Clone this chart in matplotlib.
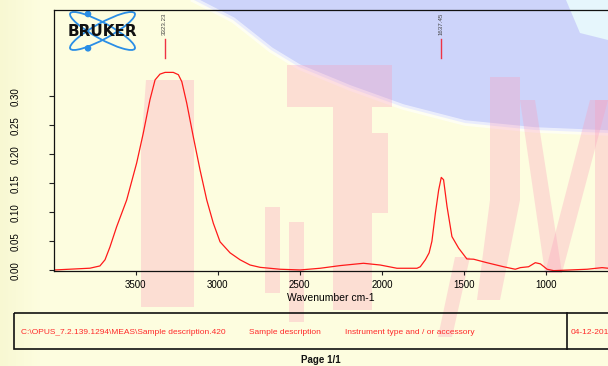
import numpy as np
import matplotlib.pyplot as plt
from matplotlib.colors import LinearSegmentedColormap
from matplotlib.patches import Ellipse, Circle, Polygon, Rectangle

# spectrum (wavenumber cm-1, absorbance)
wavenumber = [3992, 3779, 3718, 3687, 3657, 3616, 3555, 3494, 3454, 3413,
              3382, 3352, 3321, 3271, 3240, 3219, 3189, 3149, 3108, 3067,
              3027, 2986, 2925, 2864, 2803, 2742, 2620, 2498, 2376, 2254,
              2112, 2010, 1908, 1786, 1766, 1735, 1712, 1695, 1674, 1654,
              1638, 1624, 1603, 1573, 1532, 1482, 1441, 1360, 1258, 1187,
              1156, 1106, 1065, 1034, 993, 953, 851, 749, 658, 620]
absorbance = [0.0005, 0.0035, 0.0074, 0.018, 0.040, 0.075, 0.121, 0.185, 0.236, 0.294,
              0.328, 0.338, 0.341, 0.341, 0.337, 0.325, 0.288, 0.230, 0.173, 0.121,
              0.081, 0.049, 0.030, 0.018, 0.009, 0.005, 0.0017, 0.0005, 0.0034, 0.008,
              0.012, 0.009, 0.0034, 0.0034, 0.006, 0.018, 0.030, 0.050, 0.098, 0.138,
              0.160, 0.156, 0.110, 0.058, 0.038, 0.0195, 0.019, 0.013, 0.006, 0.0017,
              0.0045, 0.006, 0.013, 0.011, 0.0017, -0.0007, 0.0005, 0.0017, 0.0045, 0.0034]

peak_positions = [3323.23, 1637.45]
peak_labels = ["3323.23", "1637.45"]

x_ticks = [3500, 3000, 2500, 2000, 1500, 1000]
y_ticks = [0.00, 0.05, 0.10, 0.15, 0.20, 0.25, 0.30]

footer_texts = ["C:\\OPUS_7.2.139.1294\\MEAS\\Sample description.420",
                "Sample description",
                "Instrument type and / or accessory",
                "04-12-2013"]

W, H = 608, 366
fig = plt.figure(figsize=(W / 100, H / 100), dpi=100, facecolor='#fdfddf')
plt.rcParams['font.family'] = ['Liberation Sans', 'DejaVu Sans']

# background layer in pixel coordinates (y down)
bg = fig.add_axes([0, 0, 1, 1], zorder=0)
bg.set_xlim(0, W)
bg.set_ylim(H, 0)
bg.axis('off')

# faint yellow shade on the left edge
grad = np.linspace(0, 1, 60).reshape(1, -1)
bg.imshow(grad, extent=(0, 40, H, 0), aspect='auto', zorder=0,
          cmap=LinearSegmentedColormap.from_list('g', ['#f8f8d2', '#fdfddf']))

# watermark: blue blob
blue = [(194, 0), (233, 20), (271, 50), (299, 67), (350, 88), (403, 107), (465, 123),
        (535, 130), (608, 133), (608, 0)]
bg.add_patch(Polygon(blue, closed=True, facecolor='#cdd4fa', edgecolor='none', zorder=1))
bx, by = zip(*blue[:-1])
bg.plot(bx, by, color='white', lw=4, alpha=0.6, zorder=1)
bg.add_patch(Polygon([(566, 0), (608, 0), (608, 40), (580, 33)], closed=True,
                     facecolor='#e6f6fc', edgecolor='none', zorder=1))

# watermark: pink letters
pink_shapes = [
    [(146, 80), (194, 80), (194, 307), (141, 307), (141, 150)],
    [(265, 207), (280, 207), (280, 293), (265, 293)],
    [(289, 222), (304, 222), (304, 322), (289, 322)],
    [(287, 65), (392, 65), (392, 107), (287, 107)],
    [(333, 107), (372, 107), (372, 310), (333, 310)],
    [(372, 133), (388, 133), (388, 213), (372, 213)],
    [(455, 257), (470, 257), (452, 337), (438, 337)],
    [(490, 77), (520, 77), (520, 200), (500, 300), (477, 300), (490, 200)],
    [(520, 100), (535, 100), (562, 273), (545, 273)],
    [(545, 273), (562, 273), (608, 100), (590, 100)],
    [(595, 100), (608, 100), (608, 270), (595, 270)],
]
for shp in pink_shapes:
    bg.add_patch(Polygon(shp, closed=True, facecolor='#fb9dbb', edgecolor='none',
                         alpha=0.32, zorder=2))

# Bruker logo
for ang in (28.7, -28.7):
    bg.add_patch(Ellipse((102.5, 31), 73.6, 16, angle=ang, fill=False,
                         edgecolor='#2a8ee6', lw=1.3, zorder=5))
bg.add_patch(Circle((88, 14), 2.6, color='#2a8ee6', zorder=5))
bg.add_patch(Circle((88, 48.3), 2.6, color='#2a8ee6', zorder=5))
bg.text(102.5, 31.5, "BRUKER", ha='center', va='center', fontsize=11,
        fontweight='heavy', family='DejaVu Sans', color='#111111', zorder=6)

# footer box
bg.add_patch(Rectangle((14, 313), 700, 36, fill=False, edgecolor='#111111', lw=1.2, zorder=5))
bg.plot([567, 567], [313, 349], color='#111111', lw=1.2, zorder=5)
for xpos, txt in zip([21, 249, 345, 571], footer_texts):
    bg.text(xpos, 332.5, txt, ha='left', va='center', fontsize=6, color='#ff2a2a', zorder=6)
bg.text(321, 360, "Page 1/1", ha='center', va='center', fontsize=7,
        fontweight='bold', color='#111111', zorder=6)

# main spectrum axes
ax = fig.add_axes([54.3 / W, (H - 270.7) / H, (W - 54.3) / W, 260.4 / H], zorder=1)
ax.set_facecolor('none')
ax.plot(wavenumber, absorbance, color='#ff1a1a', lw=0.9)
ax.set_xlim(3996, 622)
ax.set_ylim(-0.0008, 0.448)

for pos, lab in zip(peak_positions, peak_labels):
    ax.plot([pos, pos], [0.365, 0.398], color='#ee3344', lw=1.0)
    ax.text(pos, 0.405, lab, rotation=90, ha='center', va='bottom',
            fontsize=4.4, color='#444444')

ax.set_xticks(x_ticks)
ax.set_xticklabels([str(t) for t in x_ticks])
ax.set_yticks(y_ticks)
ax.set_yticklabels(["%.2f" % t for t in y_ticks], rotation=90, va='center')
ax.tick_params(axis='x', length=3, width=0.8, pad=3.5, labelsize=7, color='#222222')
ax.tick_params(axis='y', length=3.6, width=0.8, pad=21, labelsize=7, color='#222222')
for s in ['left', 'top', 'bottom']:
    ax.spines[s].set_linewidth(0.9)
    ax.spines[s].set_color('#111111')
ax.spines['right'].set_visible(False)

ax.set_xlabel("Wavenumber cm-1", fontsize=7.5, va='center')
ax.xaxis.set_label_coords(0.5, -0.104)

fig.savefig("out.png", dpi=100, facecolor=fig.get_facecolor())
